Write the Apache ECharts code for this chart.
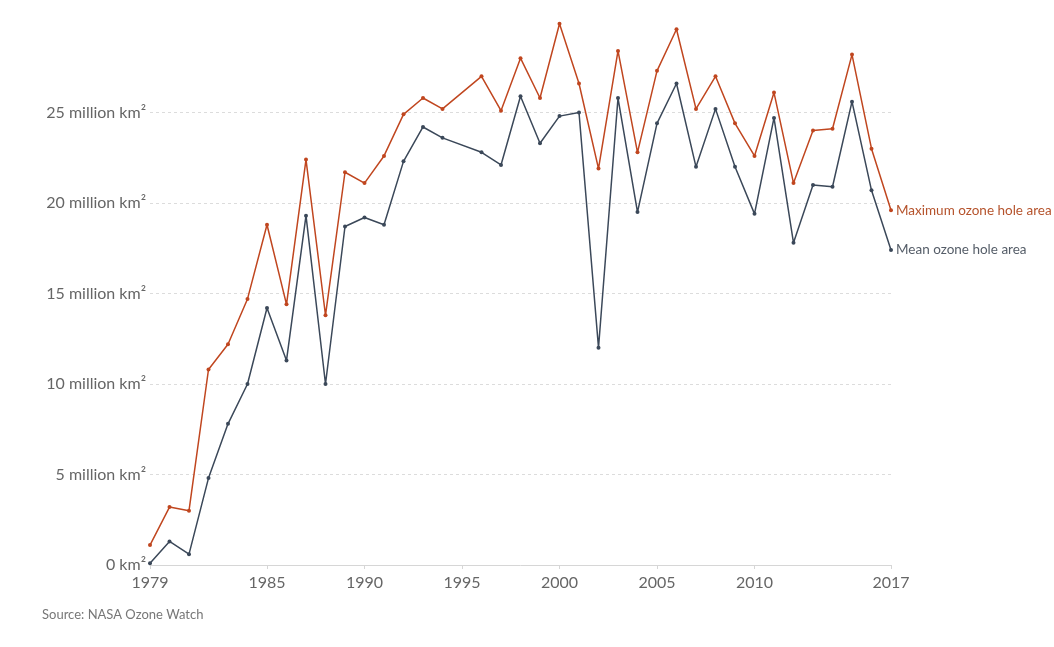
<!DOCTYPE html>
<html>
<head>
<meta charset="utf-8">
<script src="https://cdn.jsdelivr.net/npm/echarts@6/dist/echarts.min.js"></script>
<style>
  html, body { margin: 0; padding: 0; background: #fff; }
  #chart { width: 1054px; height: 647px; }
</style>
</head>
<body>
<div id="chart"></div>
<script>
// years of the record (1995 has no data)
const years = [1979, 1980, 1981, 1982, 1983, 1984, 1985, 1986, 1987, 1988, 1989,
  1990, 1991, 1992, 1993, 1994, 1996, 1997, 1998, 1999, 2000, 2001, 2002, 2003,
  2004, 2005, 2006, 2007, 2008, 2009, 2010, 2011, 2012, 2013, 2014, 2015, 2016, 2017];

// million km²
const maxArea = [1.1, 3.2, 3.0, 10.8, 12.2, 14.7, 18.8, 14.4, 22.4, 13.8, 21.7,
  21.1, 22.6, 24.9, 25.8, 25.2, 27.0, 25.1, 28.0, 25.8, 29.9, 26.6, 21.9, 28.4,
  22.8, 27.3, 29.6, 25.2, 27.0, 24.4, 22.6, 26.1, 21.1, 24.0, 24.1, 28.2, 23.0, 19.6];

const meanArea = [0.1, 1.3, 0.6, 4.8, 7.8, 10.0, 14.2, 11.3, 19.3, 10.0, 18.7,
  19.2, 18.8, 22.3, 24.2, 23.6, 22.8, 22.1, 25.9, 23.3, 24.8, 25.0, 12.0, 25.8,
  19.5, 24.4, 26.6, 22.0, 25.2, 22.0, 19.4, 24.7, 17.8, 21.0, 20.9, 25.6, 20.7, 17.4];

const yearTicks = [1979, 1985, 1990, 1995, 2000, 2005, 2010, 2017];

const maxColor = "#c0461f";
const meanColor = "#3b4859";

var chart = echarts.init(document.getElementById("chart"));

function pairs(vals) {
    return years.map((y, i) => [y, vals[i]]);
}

chart.setOption({
    animation: false,
    textStyle: { fontFamily: "Lato" },
    grid: { left: 150, right: 163, top: 22, bottom: 82 },
    graphic: [{
        type: "text",
        left: 42,
        top: 608,
        style: {
            text: "Source: NASA Ozone Watch",
            fill: "#777",
            font: "13px Lato"
        }
    }],
    xAxis: {
        type: "value",
        min: 1979,
        max: 2017,
        axisLine: { show: true, lineStyle: { color: "#d6d6d6", width: 1 } },
        axisTick: {
            show: true,
            customValues: yearTicks,
            length: 4,
            lineStyle: { color: "#d6d6d6" }
        },
        axisLabel: {
            customValues: yearTicks,
            color: "#666",
            fontSize: 16,
            margin: 10,
            formatter: v => String(v)
        },
        splitLine: { show: false }
    },
    yAxis: {
        type: "value",
        min: 0,
        max: 30,
        interval: 5,
        axisLine: { show: false },
        axisTick: { show: false },
        axisLabel: {
            color: "#666",
            fontSize: 16,
            margin: 4,
            formatter: function (v) {
                if (v === 30) return "";
                return v === 0 ? "0 km²" : v + " million km²";
            }
        },
        splitLine: {
            show: true,
            showMinLine: false,
            showMaxLine: false,
            lineStyle: { color: "#dcdcdc", type: [3, 3], width: 1 }
        }
    },
    series: [
        {
            name: "Maximum ozone hole area",
            type: "line",
            data: pairs(maxArea),
            symbol: "circle",
            symbolSize: 4,
            itemStyle: { color: maxColor },
            lineStyle: { color: maxColor, width: 1.5 },
            endLabel: {
                show: true,
                formatter: "{a}",
                color: "#b5532c",
                fontSize: 13.5,
                distance: 5
            }
        },
        {
            name: "Mean ozone hole area",
            type: "line",
            data: pairs(meanArea),
            symbol: "circle",
            symbolSize: 4,
            itemStyle: { color: meanColor },
            lineStyle: { color: meanColor, width: 1.5 },
            endLabel: {
                show: true,
                formatter: "{a}",
                color: "#555d68",
                fontSize: 13.5,
                distance: 5
            }
        }
    ]
});
</script>
</body>
</html>
